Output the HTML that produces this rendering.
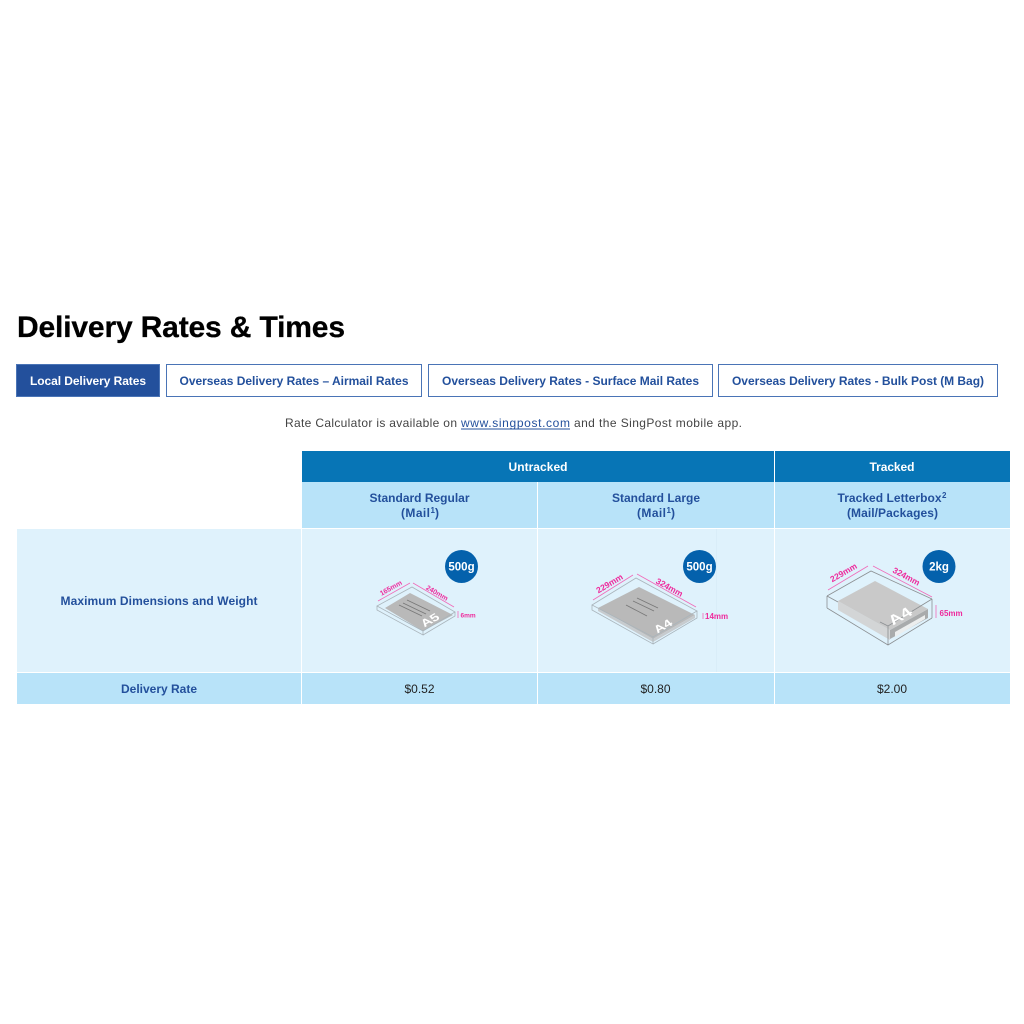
<!DOCTYPE html>
<html><head><meta charset="utf-8"><style>
html,body{margin:0;padding:0;background:#fff;width:1024px;height:1024px;overflow:hidden}
svg{display:block}
text{font-family:"Liberation Sans",sans-serif}
.b{font-weight:bold;font-size:12px;fill:#23509c}
.w{font-weight:bold;font-size:12px;fill:#fff}
.r{font-size:12px;fill:#222}
.g{font-size:12px;fill:#444}
.p{fill:#ee2a9c;font-weight:bold;text-anchor:middle}
.pl{fill:#ee2a9c;font-weight:bold}
.bd{fill:none;stroke:#a9b4bb;stroke-width:.8}
.ar{stroke:#f06ab8;stroke-width:.8;fill:none}
.ln{stroke:#777;stroke-width:.8}
.big{font-weight:bold;fill:#fff;text-anchor:middle}
.bdg{font-size:11.5px;font-weight:bold;fill:#fff;text-anchor:middle}
</style></head><body>
<svg width="1024" height="1024" viewBox="0 0 1024 1024" xmlns="http://www.w3.org/2000/svg">
<text x="17" y="337" font-size="30" font-weight="bold" fill="#000" stroke="#000" stroke-width=".3" textLength="328" lengthAdjust="spacing">Delivery Rates &amp; Times</text>

<rect x="16.500" y="364.500" width="143" height="32" fill="#23509c" stroke="#4a74b6"/>
<text x="30" y="385" class="w" textLength="116" lengthAdjust="spacing">Local Delivery Rates</text>
<rect x="166.500" y="364.500" width="255" height="32" fill="#fff" stroke="#4a74b6"/>
<text x="179.500" y="385" class="b" textLength="229" lengthAdjust="spacing">Overseas Delivery Rates – Airmail Rates</text>
<rect x="428.500" y="364.500" width="284" height="32" fill="#fff" stroke="#4a74b6"/>
<text x="442" y="385" class="b" textLength="257" lengthAdjust="spacing">Overseas Delivery Rates - Surface Mail Rates</text>
<rect x="718.500" y="364.500" width="279" height="32" fill="#fff" stroke="#4a74b6"/>
<text x="732" y="385" class="b" textLength="252" lengthAdjust="spacing">Overseas Delivery Rates - Bulk Post (M Bag)</text>

<text x="285" y="427" class="g" textLength="172" lengthAdjust="spacing">Rate Calculator is available on</text>
<text x="461" y="427" class="g" style="fill:#23509c" textLength="109" lengthAdjust="spacing">www.singpost.com</text>
<rect x="461" y="428.500" width="109" height="1" fill="#23509c"/>
<text x="574" y="427" class="g" textLength="168" lengthAdjust="spacing">and the SingPost mobile app.</text>

<rect x="302" y="451" width="708" height="31" fill="#0775b6"/>
<rect x="302" y="482" width="708" height="46" fill="#b8e3f9"/>
<rect x="17" y="529" width="993" height="143" fill="#dff2fc"/>
<rect x="17" y="673" width="993" height="31" fill="#b8e3f9"/>
<rect x="537" y="482" width="1" height="222" fill="#fff"/>
<rect x="301" y="529" width="1" height="175" fill="#fff"/>
<rect x="774" y="451" width="1" height="253" fill="#fff"/>
<rect x="716" y="529" width="1" height="143" fill="#d9edf8"/>

<text x="508.500" y="471" class="w" textLength="59" lengthAdjust="spacing">Untracked</text>
<text x="869.500" y="471" class="w" textLength="45" lengthAdjust="spacing">Tracked</text>

<text x="369.500" y="502" class="b" textLength="100" lengthAdjust="spacing">Standard Regular</text>
<text x="401" y="517" class="b" textLength="29" lengthAdjust="spacing">(Mail</text>
<text x="430.500" y="513" class="b" style="font-size:8px">1</text>
<text x="435" y="517" class="b">)</text>
<text x="612" y="502" class="b" textLength="88" lengthAdjust="spacing">Standard Large</text>
<text x="637" y="517" class="b" textLength="29" lengthAdjust="spacing">(Mail</text>
<text x="666.500" y="513" class="b" style="font-size:8px">1</text>
<text x="671" y="517" class="b">)</text>
<text x="837.500" y="502" class="b" textLength="104" lengthAdjust="spacing">Tracked Letterbox</text>
<text x="942" y="498" class="b" style="font-size:8px">2</text>
<text x="847" y="517" class="b" textLength="91" lengthAdjust="spacing">(Mail/Packages)</text>

<text x="60.500" y="605" class="b" textLength="197" lengthAdjust="spacing">Maximum Dimensions and Weight</text>
<text x="121" y="693" class="b" textLength="76" lengthAdjust="spacing">Delivery Rate</text>
<text x="404.500" y="693" class="r" textLength="30" lengthAdjust="spacing">$0.52</text>
<text x="640.500" y="693" class="r" textLength="30" lengthAdjust="spacing">$0.80</text>
<text x="877" y="693" class="r" textLength="30" lengthAdjust="spacing">$2.00</text>

<!-- A5 -->
<circle cx="461.500" cy="566.500" r="16.500" fill="#0461ac"/>
<text x="461.500" y="570.500" class="bdg">500g</text>
<polygon points="385,608 410,593 453,615 423,631" fill="#b9b9b9"/>
<path class="bd" d="M377,606 412,587 455,612 423,631 Z M377,606 V610 L423,635 V631 M423,635 L455,616 V612"/>
<g class="ln"><path d="M407,600 430,611 M403,603 426,614 M399,605 422,616"/></g>
<text transform="matrix(.9,-.5,.55,.6,432.600,622.900)" class="big" font-size="14">A5</text>
<path class="ar" d="M378,601 410,583 M413,583 454,607"/>
<text class="p" style="font-size:7px" transform="translate(392,590) rotate(-29)">165mm</text>
<text class="p" style="font-size:7px" transform="translate(436,595) rotate(30)">240mm</text>
<path class="ar" d="M458,611 V618"/>
<text class="pl" x="460.500" y="617.500" style="font-size:6.500px">6mm</text>

<!-- A4 regular -->
<circle cx="699.500" cy="566.500" r="16.500" fill="#0461ac"/>
<text x="699.500" y="570.500" class="bdg">500g</text>
<polygon points="598,608 639,587 695,615 653,639" fill="#b9b9b9"/>
<polygon points="598,608 653,639 695,615 695,618 653,642 598,611" fill="#c7cbce"/>
<path class="bd" d="M592,605 636,578 697,611 653,637 Z M592,605 V610 L653,644 V637 M653,644 L697,618 V611"/>
<g class="ln"><path d="M637,598 658,608 M633,601 654,611 M626,605 647,616"/></g>
<text transform="matrix(.9,-.5,.55,.6,665.600,629)" class="big" font-size="14">A4</text>
<path class="ar" d="M593,600 633,575 M637,574 696,607"/>
<text class="p" style="font-size:8.500px" transform="translate(611,586) rotate(-31)">229mm</text>
<text class="p" style="font-size:8.500px" transform="translate(668,590) rotate(29)">324mm</text>
<path class="ar" d="M703,613 V619"/>
<text class="pl" x="705" y="619" style="font-size:8px">14mm</text>

<!-- A4 box -->
<circle cx="939" cy="566.500" r="16.500" fill="#0461ac"/>
<text x="939" y="570.500" class="bdg">2kg</text>
<path d="M827,596 871,571 932,599 M827,596 V608 M932,599 V618" fill="none" stroke="#8b8f92" stroke-width=".8"/>
<polygon points="838,601 838,610 890,640 890,630" fill="#d3d5d6"/>
<polygon points="890,630 890,639 928,618 928,609" fill="#a9abac"/>
<polygon points="895,637 925,619 925,615 895,632" fill="#eceeee"/>
<polygon points="838,601 875,581 928,609 890,630" fill="#c9c9c9"/>
<path d="M888,626 932,599 M827,596 838,602 M880,622 888,626 M827,608 888,645 932,618 M888,626 V645" fill="none" stroke="#8b8f92" stroke-width=".8"/>
<text transform="matrix(.9,-.5,.55,.6,903.400,619.700)" class="big" font-size="18">A4</text>
<path class="ar" d="M828,590 868,566 M873,566 932,597"/>
<text class="p" style="font-size:8.500px" transform="translate(845,575) rotate(-30)">229mm</text>
<text class="p" style="font-size:8.500px" transform="translate(905,579) rotate(28)">324mm</text>
<path class="ar" d="M936,605 V618"/>
<text class="pl" x="939.500" y="616" style="font-size:8px">65mm</text>
</svg>
</body></html>
